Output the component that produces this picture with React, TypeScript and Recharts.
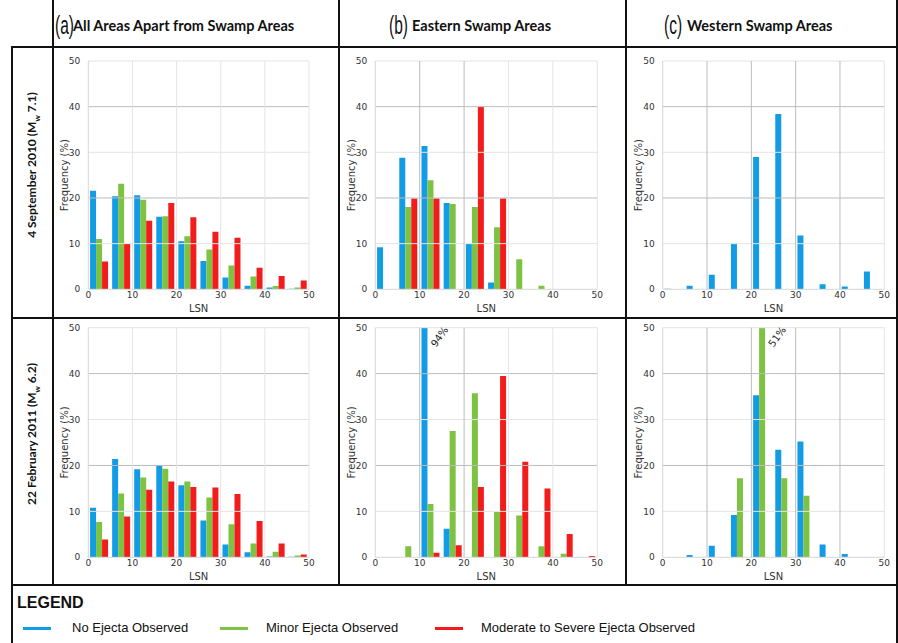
import React from "react";
import { BarChart, Bar, XAxis, YAxis, ReferenceLine, LabelList } from "recharts";

// LSN histogram bins (width 5), plotted at bin centres
const BIN_CENTERS = [2.5, 7.5, 12.5, 17.5, 22.5, 27.5, 32.5, 37.5, 42.5, 47.5];
const LSN_TICKS = [0, 10, 20, 30, 40, 50];
const FREQ_TICKS = [0, 10, 20, 30, 40, 50];

const SERIES = ["No Ejecta Observed", "Minor Ejecta Observed", "Moderate to Severe Ejecta Observed"];
const COLUMN_TITLES = ["All Areas Apart from Swamp Areas", "Eastern Swamp Areas", "Western Swamp Areas"];
const COLUMN_LETTERS = ["a", "b", "c"];
const EVENTS = [
  { date: "4 September 2010", mag: "7.1" },
  { date: "22 February 2011", mag: "6.2" },
];

// 4 September 2010 (Mw 7.1) - frequency (%)
const sepAllNone = [21.6, 20.4, 20.6, 15.9, 10.5, 6.2, 2.6, 0.8, 0.4, 0.1];
const sepAllMinor = [11.0, 23.1, 19.6, 16.0, 11.6, 8.7, 5.2, 2.8, 0.7, 0.4];
const sepAllSevere = [6.1, 9.9, 15.0, 18.9, 15.8, 12.6, 11.3, 4.7, 2.9, 1.9];
const sepEastNone = [9.2, 28.8, 31.4, 18.9, 9.9, 1.5, 0, 0, 0, 0];
const sepEastMinor = [0, 18.0, 23.9, 18.7, 18.0, 13.6, 6.6, 0.8, 0, 0];
const sepEastSevere = [0, 19.9, 19.9, 0, 40.0, 19.9, 0, 0, 0, 0];
const sepWestNone = [0.1, 0.8, 3.2, 10.0, 29.0, 38.4, 11.8, 1.1, 0.6, 3.9];
const sepWestMinor = [0, 0, 0, 0, 0, 0, 0, 0, 0, 0];
const sepWestSevere = [0, 0, 0, 0, 0, 0, 0, 0, 0, 0];

// 22 February 2011 (Mw 6.2) - frequency (%)
const febAllNone = [10.8, 21.4, 19.2, 20.1, 15.7, 8.0, 2.8, 1.1, 0.2, 0.1];
const febAllMinor = [7.7, 13.9, 17.4, 19.3, 16.5, 13.0, 7.2, 3.0, 1.2, 0.4];
const febAllSevere = [3.9, 8.9, 14.7, 16.5, 15.3, 15.2, 13.8, 7.9, 3.0, 0.6];
const febEastNone = [0, 0, 94, 6.2, 0, 0, 0, 0, 0, 0];
const febEastMinor = [0, 2.4, 11.6, 27.5, 35.7, 9.9, 9.1, 2.4, 0.8, 0];
const febEastSevere = [0, 0, 1.0, 2.6, 15.3, 39.5, 20.8, 15.0, 5.1, 0.3];
const febWestNone = [0, 0.5, 2.5, 9.2, 35.3, 23.4, 25.2, 2.8, 0.7, 0];
const febWestMinor = [0, 0, 0, 17.2, 51, 17.2, 13.4, 0, 0, 0];
const febWestSevere = [0, 0, 0, 0, 0, 0, 0, 0, 0, 0];

const COLORS = ["#139ce6", "#7dc243", "#f21c1c"];
const GRID_LIGHT = "#e4e4e4";
const GRID_DARK = "#bcbcbc";
const AXIS_FONT = "'DejaVu Sans', sans-serif";

// figure frame
const COL_X = [53, 339, 626, 897];
const ROW_Y = [47, 318, 585];
const PLOT_LEFT = [88.3, 375.3, 662.7];
const PLOT_RIGHT = [309, 597.3, 884.3];
const PLOT_TOP = [61, 327.7];
const PLOT_BOTTOM = [289.3, 557.3];
const Y_AXIS_W = 30;
const X_AXIS_H = 23;

// Label for bars that go above 50%
const OverflowLabel = (props: any) => {
  const { x, y, width, height, value } = props;
  if (value == null || value <= 50) return null;
  const top = y + height - (height * 50) / value;
  const cx = x + width + 12;
  const cy = top + 9;
  return (
    <text
      x={cx}
      y={cy}
      transform={`rotate(-55 ${cx} ${cy})`}
      textAnchor="middle"
      dominantBaseline="central"
      fontSize={10}
      fill="#222"
      fontFamily={AXIS_FONT}
    >
      {`${value}%`}
    </text>
  );
};

interface PanelProps {
  row: number;
  col: number;
  series: number[][];
  darkX: number[];
}

const Panel = ({ row, col, series, darkX }: PanelProps) => {
  const data = BIN_CENTERS.map((center, i) => ({
    center,
    none: series[0][i],
    minor: series[1][i],
    severe: series[2][i],
  }));
  const left = COL_X[col];
  const top = ROW_Y[row];
  const width = COL_X[col + 1] - left;
  const height = ROW_Y[row + 1] - top;
  const margin = {
    top: PLOT_TOP[row] - top,
    bottom: ROW_Y[row + 1] - PLOT_BOTTOM[row] - X_AXIS_H,
    left: PLOT_LEFT[col] - left - Y_AXIS_W,
    right: COL_X[col + 1] - PLOT_RIGHT[col],
  };
  const tick = { fontSize: 9, fill: "#333", fontFamily: AXIS_FONT };
  return (
    <div style={{ position: "absolute", left, top }}>
      <BarChart width={width} height={height} data={data} margin={margin} barCategoryGap="8%" barGap={0}>
        <XAxis
          dataKey="center"
          type="number"
          domain={[0, 50]}
          ticks={LSN_TICKS}
          interval={0}
          tickSize={0}
          tickMargin={2}
          height={X_AXIS_H}
          axisLine={{ stroke: "#d6d6d6" }}
          tick={tick}
          label={{ value: "LSN", position: "insideBottom", offset: 0, fontSize: 10, fill: "#333", fontFamily: AXIS_FONT }}
        />
        <YAxis
          domain={[0, 50]}
          allowDataOverflow
          ticks={FREQ_TICKS}
          width={Y_AXIS_W}
          tickLine={false}
          axisLine={{ stroke: "#d6d6d6" }}
          tick={tick}
          label={{
            value: "Frequency (%)",
            angle: -90,
            position: "insideLeft",
            offset: 6,
            fontSize: 10,
            fill: "#333",
            fontFamily: AXIS_FONT,
            style: { textAnchor: "middle" },
          }}
        />
        {FREQ_TICKS.slice(1).map((v) => (
          <ReferenceLine key={`h${v}`} y={v} stroke={v % 20 === 0 ? GRID_DARK : GRID_LIGHT} />
        ))}
        {LSN_TICKS.slice(1).map((v) => (
          <ReferenceLine key={`v${v}`} x={v} stroke={darkX.includes(v) ? GRID_DARK : GRID_LIGHT} />
        ))}
        {["none", "minor", "severe"].map((key, i) => (
          <Bar key={key} dataKey={key} name={SERIES[i]} fill={COLORS[i]} isAnimationActive={false}>
            <LabelList dataKey={key} content={OverflowLabel} />
          </Bar>
        ))}
      </BarChart>
    </div>
  );
};

const PANELS = [
  { row: 0, col: 0, series: [sepAllNone, sepAllMinor, sepAllSevere], darkX: [] as number[] },
  { row: 0, col: 1, series: [sepEastNone, sepEastMinor, sepEastSevere], darkX: [10, 20] },
  { row: 0, col: 2, series: [sepWestNone, sepWestMinor, sepWestSevere], darkX: [10, 20, 30, 40] },
  { row: 1, col: 0, series: [febAllNone, febAllMinor, febAllSevere], darkX: [] as number[] },
  { row: 1, col: 1, series: [febEastNone, febEastMinor, febEastSevere], darkX: [10, 20] },
  { row: 1, col: 2, series: [febWestNone, febWestMinor, febWestSevere], darkX: [10, 20, 30, 40] },
];

const line = (left: number, top: number, width: number, height: number) => (
  <div style={{ position: "absolute", left, top, width, height, background: "#111" }} />
);

const TITLE_X = [[55, 73], [389, 412], [664, 687]];
const LEGEND_X = [[23, 72], [220, 266], [435, 481]];

export default function App() {
  return (
    <div style={{ position: "absolute", left: 0, top: 0, width: 898, height: 643, background: "#fff", overflow: "hidden" }}>
      {PANELS.map((p) => (
        <Panel key={`${p.row}-${p.col}`} {...p} />
      ))}

      {/* column headers */}
      {COLUMN_TITLES.map((t, i) => (
        <React.Fragment key={t}>
          <div
            style={{
              position: "absolute",
              left: TITLE_X[i][0],
              top: 9,
              fontFamily: "'Liberation Sans', Arial, sans-serif",
              fontSize: 25,
              lineHeight: "32px",
              color: "#111",
              transform: "scaleX(0.62)",
              transformOrigin: "left center",
            }}
          >
            ({COLUMN_LETTERS[i]})
          </div>
          <div style={{ position: "absolute", left: TITLE_X[i][1], top: 17, fontFamily: "Lato, sans-serif", fontWeight: 700, fontSize: 14.5, lineHeight: "18px", color: "#111", whiteSpace: "nowrap" }}>
            {t}
          </div>
        </React.Fragment>
      ))}

      {/* row labels */}
      {EVENTS.map((e, i) => {
        const cy = (ROW_Y[i] + ROW_Y[i + 1]) / 2 - 18;
        return (
          <div
            key={e.date}
            style={{
              position: "absolute",
              left: 33,
              top: cy,
              transform: "translate(-50%, -50%) rotate(-90deg)",
              fontFamily: "Lato, sans-serif",
              fontWeight: 700,
              fontSize: 12,
              whiteSpace: "nowrap",
              color: "#111",
            }}
          >
            {e.date} (M<sub style={{ fontSize: 8 }}>w</sub> {e.mag})
          </div>
        );
      })}

      {/* legend */}
      <div style={{ position: "absolute", left: 17, top: 594, fontFamily: "'Liberation Sans', Arial, sans-serif", fontWeight: 700, fontSize: 16, color: "#111" }}>
        LEGEND
      </div>
      {SERIES.map((s, i) => (
        <React.Fragment key={s}>
          <div style={{ position: "absolute", left: LEGEND_X[i][0], top: 627, width: 28, height: 2.5, background: COLORS[i] }} />
          <div style={{ position: "absolute", left: LEGEND_X[i][1], top: 620, fontFamily: "'Liberation Sans', Arial, sans-serif", fontSize: 13, lineHeight: "16px", color: "#111", whiteSpace: "nowrap" }}>
            {s}
          </div>
        </React.Fragment>
      ))}

      {/* frame lines */}
      {line(52, 0, 2, ROW_Y[2] + 1)}
      {line(338, 0, 2, ROW_Y[2] + 1)}
      {line(625, 0, 2, ROW_Y[2] + 1)}
      {line(896, 0, 2, 643)}
      {line(11, 46, 2, 597)}
      {line(11, 46, 887, 2)}
      {line(11, 317, 887, 2)}
      {line(11, 584, 887, 2)}
    </div>
  );
}
